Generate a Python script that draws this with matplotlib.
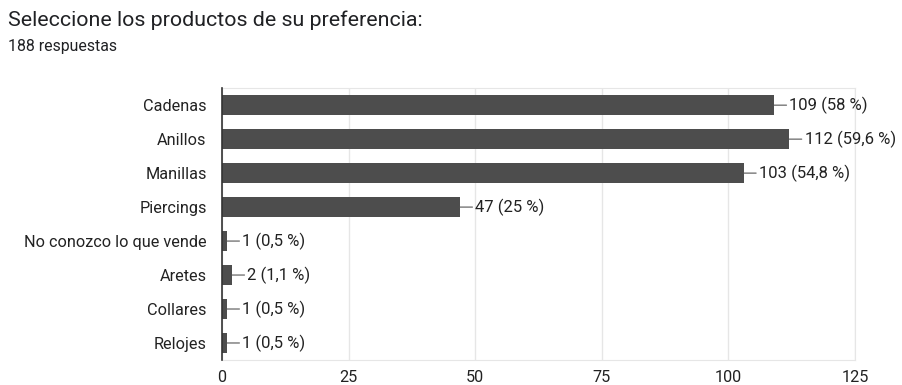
import matplotlib.pyplot as plt

productos = ["Cadenas", "Anillos", "Manillas", "Piercings",
             "No conozco lo que vende", "Aretes", "Collares", "Relojes"]
respuestas = [109, 112, 103, 47, 1, 2, 1, 1]
porcentajes = ["58", "59,6", "54,8", "25", "0,5", "1,1", "0,5", "0,5"]
total = 188
ticks_x = [0, 25, 50, 75, 100, 125]

plt.rcParams['font.family'] = ['Roboto', 'DejaVu Sans']

fig = plt.figure(figsize=(9.02, 3.85), dpi=100)
ax = fig.add_axes([0.246, 0.065, 0.702, 0.706])

pos = list(range(len(productos)))
ax.barh(pos, respuestas, height=0.6, color="#4d4d4d", zorder=3)

for i, (v, p) in enumerate(zip(respuestas, porcentajes)):
    ax.annotate(f"{v} ({p} %)", xy=(v, i), xytext=(11, 0),
                textcoords="offset points", va="center", ha="left",
                fontsize=12, color="#222222",
                arrowprops=dict(arrowstyle="-", color="#555555", lw=0.8,
                                shrinkA=0, shrinkB=0))

ax.set_xlim(0, 125)
ax.set_ylim(len(productos) - 0.5, -0.5)
ax.set_xticks(ticks_x)
ax.set_yticks(pos)
ax.set_yticklabels(productos)
ax.tick_params(axis="both", length=0, labelsize=11.7, colors="#222222")
ax.tick_params(axis="y", pad=11)
ax.tick_params(axis="x", pad=7)
ax.xaxis.grid(True, color="#e6e6e6", lw=1, zorder=0)

for s in ["top", "right", "bottom"]:
    ax.spines[s].set_color("#e6e6e6")
ax.spines["left"].set_color("#333333")
ax.spines["left"].set_linewidth(1.2)
ax.spines["left"].set_zorder(4)

fig.text(0.009, 0.948, "Seleccione los productos de su preferencia:",
         fontsize=15.4, color="#202124", va="center")
fig.text(0.009, 0.878, f"{total} respuestas", fontsize=11.4, color="#202124",
         va="center")

fig.savefig("out.png", dpi=100)
